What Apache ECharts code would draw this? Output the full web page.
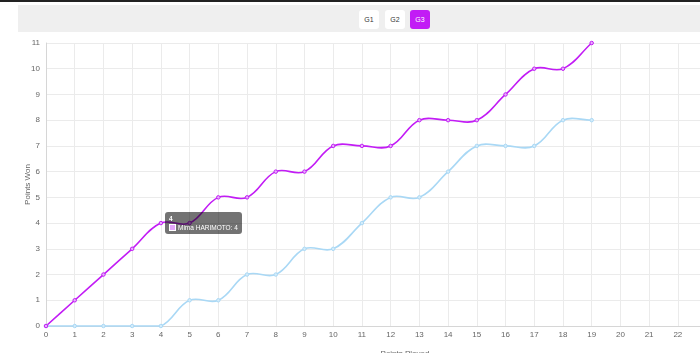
<!DOCTYPE html>
<html>
<head>
<meta charset="utf-8">
<script src="https://cdn.jsdelivr.net/npm/echarts@6/dist/echarts.min.js"></script>
<style>
  html, body { margin: 0; padding: 0; width: 700px; height: 353px; overflow: hidden; background: #fff; font-family: "Liberation Sans", Arial, sans-serif; }
  .topline { position: absolute; left: 0; top: 0; width: 700px; height: 2px; background: #222; }
  .band { position: absolute; left: 18px; top: 5px; width: 760px; height: 27px; background: #efefef; }
  .btn { position: absolute; top: 10px; width: 20px; height: 19px; line-height: 19px; border-radius: 3px; background: #fff; color: #333; font-size: 7px; text-align: center; }
  .btn.on { background: #c21cf5; color: #fff; }
  #main { position: absolute; left: 0; top: 35px; width: 780px; height: 330px; }
</style>
</head>
<body>
<div class="topline"></div>
<div class="band"></div>
<div class="btn" style="left:359px">G1</div>
<div class="btn" style="left:385px">G2</div>
<div class="btn on" style="left:410px">G3</div>
<div id="main"></div>
<script>
var pointsPlayed = [0, 1, 2, 3, 4, 5, 6, 7, 8, 9, 10, 11, 12, 13, 14, 15, 16, 17, 18, 19];
var harimoto = [0, 1, 2, 3, 4, 4, 5, 5, 6, 6, 7, 7, 7, 8, 8, 8, 9, 10, 10, 11];
var opponent = [0, 0, 0, 0, 0, 1, 1, 2, 2, 3, 3, 4, 5, 5, 6, 7, 7, 7, 8, 8];

function pairs(vals) {
    return pointsPlayed.map(function (x, i) { return [x, vals[i]]; });
}

var purple = '#c21cf5';
var blue = '#a9d8f5';

// spline with tension like the original page (overshoots a little on flat steps),
// control points kept inside the plot area
function splinePath(pts, t, area) {
    function cap(p) {
        return [Math.min(Math.max(p[0], area.x), area.x + area.width),
                Math.min(Math.max(p[1], area.y), area.y + area.height)];
    }
    var d = 'M' + pts[0][0] + ' ' + pts[0][1];
    var ctrl = pts.map(function (p, i) {
        var prev = pts[i - 1] || p, next = pts[i + 1] || p;
        var d01 = Math.hypot(p[0] - prev[0], p[1] - prev[1]);
        var d12 = Math.hypot(next[0] - p[0], next[1] - p[1]);
        var s01 = d01 / (d01 + d12) || 0, s12 = d12 / (d01 + d12) || 0;
        var fa = t * s01, fb = t * s12;
        return {
            prev: cap([p[0] - fa * (next[0] - prev[0]), p[1] - fa * (next[1] - prev[1])]),
            next: cap([p[0] + fb * (next[0] - prev[0]), p[1] + fb * (next[1] - prev[1])])
        };
    });
    for (var i = 1; i < pts.length; i++) {
        var c1 = ctrl[i - 1].next, c2 = ctrl[i].prev;
        d += ' C' + c1[0] + ' ' + c1[1] + ' ' + c2[0] + ' ' + c2[1] + ' ' + pts[i][0] + ' ' + pts[i][1];
    }
    return d;
}

function curveSeries(vals, color) {
    var data = pairs(vals);
    return {
        type: 'custom',
        silent: true,
        tooltip: { show: false },
        data: data,
        encode: { x: 0, y: 1 },
        renderItem: function (params, api) {
            if (params.dataIndex !== 0) return null;
            var pts = data.map(function (d) { return api.coord(d); });
            return {
                type: 'path',
                shape: { pathData: splinePath(pts, 0.4, params.coordSys) },
                style: { fill: null, stroke: color, lineWidth: 1.6 }
            };
        }
    };
}

function pointSeries(name, vals, color, fill) {
    return {
        name: name,
        type: 'line',
        data: pairs(vals),
        symbol: 'circle',
        symbolSize: 3.5,
        lineStyle: { width: 0, opacity: 0 },
        itemStyle: { color: fill, borderColor: color, borderWidth: 1 }
    };
}

var chart = echarts.init(document.getElementById('main'));
var option = {
    animation: false,
    grid: { left: 46, right: 16, top: 8, bottom: 39 },
    tooltip: {
        trigger: 'item',
        alwaysShowContent: true,
        backgroundColor: 'rgba(0,0,0,0.55)',
        borderWidth: 0,
        padding: [2, 4],
        extraCssText: 'box-shadow:none;border-radius:3px;',
        textStyle: { color: '#fff', fontSize: 6.5, fontFamily: 'Liberation Sans' },
        position: function (point) { return [point[0] + 4, point[1] - 11]; },
        formatter: function (p) {
            return '<div style="line-height:9px;font-weight:bold">' + p.value[0] + '</div>' +
                '<div style="line-height:9px"><span style="display:inline-block;width:5px;height:5px;background:#e3a6fb;border:1px solid #fff;margin-right:2px;vertical-align:-1px"></span>' +
                p.seriesName + ': ' + p.value[1] + '</div>';
        }
    },
    xAxis: {
        type: 'value',
        min: 0,
        max: 25,
        interval: 1,
        name: 'Points Played',
        nameLocation: 'middle',
        nameGap: 24,
        nameMoveOverlap: false,
        nameTextStyle: { color: '#666', fontSize: 8 },
        axisLine: { show: true, lineStyle: { color: '#d6d6d6' } },
        axisTick: { show: false },
        axisLabel: { color: '#666', fontSize: 8, margin: 5 },
        splitLine: { lineStyle: { color: '#ebebeb' } }
    },
    yAxis: {
        type: 'value',
        min: 0,
        max: 11,
        interval: 1,
        name: 'Points Won',
        nameLocation: 'middle',
        nameGap: 14,
        nameMoveOverlap: false,
        nameTextStyle: { color: '#666', fontSize: 8 },
        axisLine: { show: true, lineStyle: { color: '#d6d6d6' } },
        axisTick: { show: false },
        axisLabel: { color: '#666', fontSize: 8, margin: 6 },
        splitLine: { lineStyle: { color: '#ebebeb' } }
    },
    series: [
        curveSeries(opponent, blue),
        curveSeries(harimoto, purple),
        pointSeries('Opponent', opponent, blue, '#d4ecfa'),
        pointSeries('Mima HARIMOTO', harimoto, purple, '#e6b0fb')
    ]
};
chart.setOption(option);
chart.dispatchAction({ type: 'showTip', seriesIndex: 3, dataIndex: 4 });
</script>
</body>
</html>
